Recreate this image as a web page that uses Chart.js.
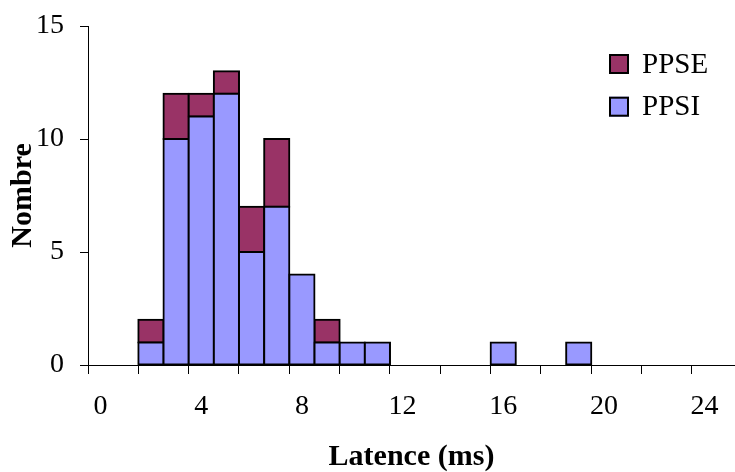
<!DOCTYPE html>
<html>
<head>
<meta charset="utf-8">
<script src="https://cdn.jsdelivr.net/npm/chart.js@4/dist/chart.umd.min.js"></script>
<style>
  html, body { margin: 0; padding: 0; background: #fff; }
  #wrap { width: 735px; height: 472px; }
</style>
</head>
<body>
<div id="wrap"><canvas id="c" width="735" height="472"></canvas></div>
<script>
// Latency bins (ms), lower edge of each 1 ms class
const bins = [0, 1, 2, 3, 4, 5, 6, 7, 8, 9, 10, 11, 12, 13, 14, 15, 16, 17, 18, 19, 20, 21, 22, 23, 24, 25];
// Counts per bin
const ppsi = [0, 0, 1, 10, 11, 12, 5, 7, 4, 1, 1, 1, 0, 0, 0, 0, 1, 0, 0, 1, 0, 0, 0, 0, 0, 0];
const ppse = [0, 0, 1, 2, 1, 1, 2, 3, 0, 1, 0, 0, 0, 0, 0, 0, 0, 0, 0, 0, 0, 0, 0, 0, 0, 0];
const seriesNames = ['PPSI', 'PPSE'];
const seriesColors = ['#9999FF', '#993366'];
// Labelled x ticks and y ticks
const xTickLabels = [0, 4, 8, 12, 16, 20, 24];
const yTickValues = [0, 5, 10, 15];

const SERIF = '"Liberation Serif", "Times New Roman", serif';

// Each bar sits in the middle of its 1 ms class; empty classes are left out
function toPoints(values) {
  return bins.map((b, i) => ({ x: b + 0.5, y: values[i] === 0 ? null : values[i] }));
}

// Boxed legend drawn inside the plot, top series first
const boxLegend = {
  id: 'boxLegend',
  afterDraw(chart) {
    const { ctx, chartArea } = chart;
    const items = chart.data.datasets.slice().reverse();
    ctx.save();
    items.forEach((ds, i) => {
      const x = chartArea.right - 126;
      const y = chartArea.top + 28 + i * 42.7;
      ctx.fillStyle = ds.backgroundColor;
      ctx.fillRect(x, y, 20, 20);
      ctx.strokeStyle = '#000';
      ctx.lineWidth = 2;
      ctx.strokeRect(x + 1, y + 1, 18, 18);
      ctx.fillStyle = '#000';
      ctx.font = '29px ' + SERIF;
      ctx.textBaseline = 'middle';
      ctx.textAlign = 'left';
      ctx.fillText(ds.label, x + 33, y + 11);
    });
    ctx.restore();
  }
};

new Chart(document.getElementById('c'), {
  type: 'bar',
  data: {
    datasets: [
      { label: seriesNames[0], data: toPoints(ppsi), backgroundColor: seriesColors[0] },
      { label: seriesNames[1], data: toPoints(ppse), backgroundColor: seriesColors[1] }
    ]
  },
  options: {
    responsive: false,
    animation: false,
    devicePixelRatio: 1,
    layout: { padding: { top: 26, right: 0, bottom: 0, left: 0 } },
    datasets: {
      bar: {
        barPercentage: 1,
        categoryPercentage: 1,
        borderColor: '#000',
        borderWidth: 2,
        borderSkipped: false,
        inflateAmount: 1
      }
    },
    plugins: {
      legend: { display: false },
      tooltip: { enabled: false }
    },
    scales: {
      x: {
        type: 'linear',
        stacked: true,
        offset: false,
        min: 0,
        max: 25.71,
        afterFit(scale) { scale.height = 107; scale.paddingLeft = 0; scale.paddingRight = 0; },
        border: { display: true, color: '#000', width: 1 },
        grid: { offset: false, drawOnChartArea: false, drawTicks: true, tickLength: 9, color: '#000' },
        ticks: {
          stepSize: 2,
          includeBounds: false,
          autoSkip: false,
          maxRotation: 0,
          labelOffset: 12.6,
          padding: 16,
          color: '#000',
          font: { family: SERIF, size: 28 },
          callback: (v) => xTickLabels.includes(v) ? String(v) : ''
        },
        title: {
          display: true,
          text: 'Latence (ms)',
          color: '#000',
          font: { family: SERIF, size: 30, weight: 'bold', lineHeight: 1 },
          padding: { top: 0, bottom: 0 }
        }
      },
      y: {
        stacked: true,
        min: 0,
        max: 15,
        afterFit(scale) { scale.width = 88; scale.paddingTop = 0; scale.paddingBottom = 0; },
        afterBuildTicks(scale) { scale.ticks = yTickValues.map(v => ({ value: v })); },
        border: { display: true, color: '#000', width: 1 },
        grid: { drawOnChartArea: false, drawTicks: true, tickLength: 8, color: '#000' },
        ticks: {
          padding: 16,
          color: '#000',
          font: { family: SERIF, size: 28 }
        },
        title: {
          display: true,
          text: 'Nombre',
          color: '#000',
          font: { family: SERIF, size: 30, weight: 'bold', lineHeight: 1.2 },
          padding: { top: 5, bottom: 0 }
        }
      }
    }
  },
  plugins: [boxLegend]
});
</script>
</body>
</html>
